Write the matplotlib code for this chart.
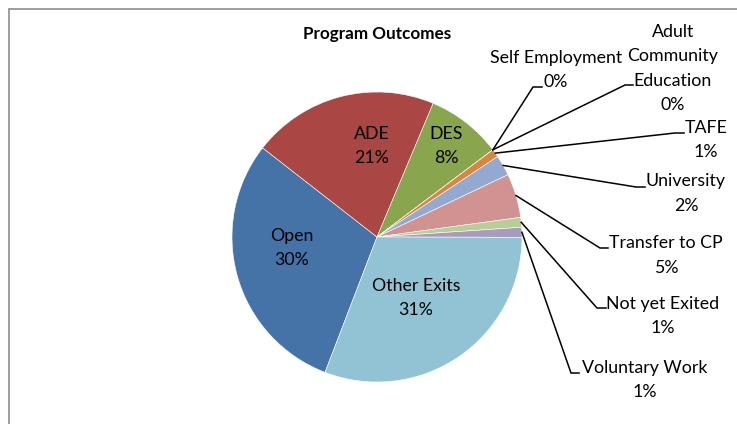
import numpy as np
import matplotlib.pyplot as plt
from matplotlib.patches import Rectangle

# data
categories = ['Open', 'ADE', 'DES', 'Self Employment', 'Adult\nCommunity\nEducation', 'TAFE',
              'University', 'Transfer to CP', 'Not yet Exited', 'Voluntary Work', 'Other Exits']
values = [29.7, 20.8, 8.4, 0.0, 0.0, 0.9, 2.3, 4.9, 1.1, 1.1, 30.8]
pct_labels = ['30%', '21%', '8%', '0%', '0%', '1%', '2%', '5%', '1%', '1%', '31%']
colors = ['#4572A7', '#AA4643', '#89A54E', '#71588F', '#4198AF', '#DB843D',
          '#93A9CF', '#D19392', '#B9CD96', '#A99BBD', '#92C3D4']

W, H = 737, 424
fig = plt.figure(figsize=(W / 100, H / 100), dpi=100)
ax = fig.add_axes([0, 0, 1, 1])
plt.rcParams['font.family'] = ['Lato', 'DejaVu Sans']

cx, cy, R = 377, H - 237, 145
wedges, _ = ax.pie(values, colors=colors, startangle=249, counterclock=False,
                   center=(cx, cy), radius=R, wedgeprops=dict(linewidth=0.4, edgecolor='white'))
ax.set_xlim(0, W)
ax.set_ylim(0, H)
ax.set_aspect('equal')
ax.axis('off')

fs = 12.8
ls = 1.62
# labels inside the big slices (pixel positions, y measured from top)
inside_pos = {0: (292, 248), 1: (372, 146), 2: (446, 146), 10: (416, 298)}
for i, (x, y) in inside_pos.items():
    ax.text(x, H - y, categories[i] + '\n' + pct_labels[i], ha='center', va='center',
            fontsize=fs, linespacing=ls, color='black')

# outside labels with leader lines: text centre, elbow, end
outside = {
    3: ((556, 70), (533, 87), (542, 87)),
    4: ((673, 68.5), (625, 85), (633, 85)),
    5: ((706, 140), (675, 133), (684, 133)),
    6: ((686, 193.5), (636, 187), (645, 187)),
    7: ((666, 255.5), (600, 248), (608, 248)),
    8: ((663, 316), (597, 308), (606, 308)),
    9: ((645, 380), (571, 373), (579, 373)),
}
for i, (tpos, elbow, end) in outside.items():
    w = wedges[i]
    mid = np.deg2rad((w.theta1 + w.theta2) / 2)
    sx, sy = cx + R * np.cos(mid), cy + R * np.sin(mid)
    ax.plot([sx, elbow[0], end[0]], [sy, H - elbow[1], H - end[1]], color='black', lw=1.1,
            solid_joinstyle='miter')
    ax.text(tpos[0], H - tpos[1], categories[i] + '\n' + pct_labels[i], ha='center', va='center',
            fontsize=fs, linespacing=ls, color='black')

ax.text(377, H - 34, 'Program Outcomes', ha='center', va='center', fontsize=12.3, fontweight='bold')

# chart frame
fig.patches.append(Rectangle((9, -20), W + 20, H - 9 + 20, transform=None, fill=False,
                             edgecolor='#8c8c8c', lw=1.2))

fig.savefig('out.png', dpi=100)
